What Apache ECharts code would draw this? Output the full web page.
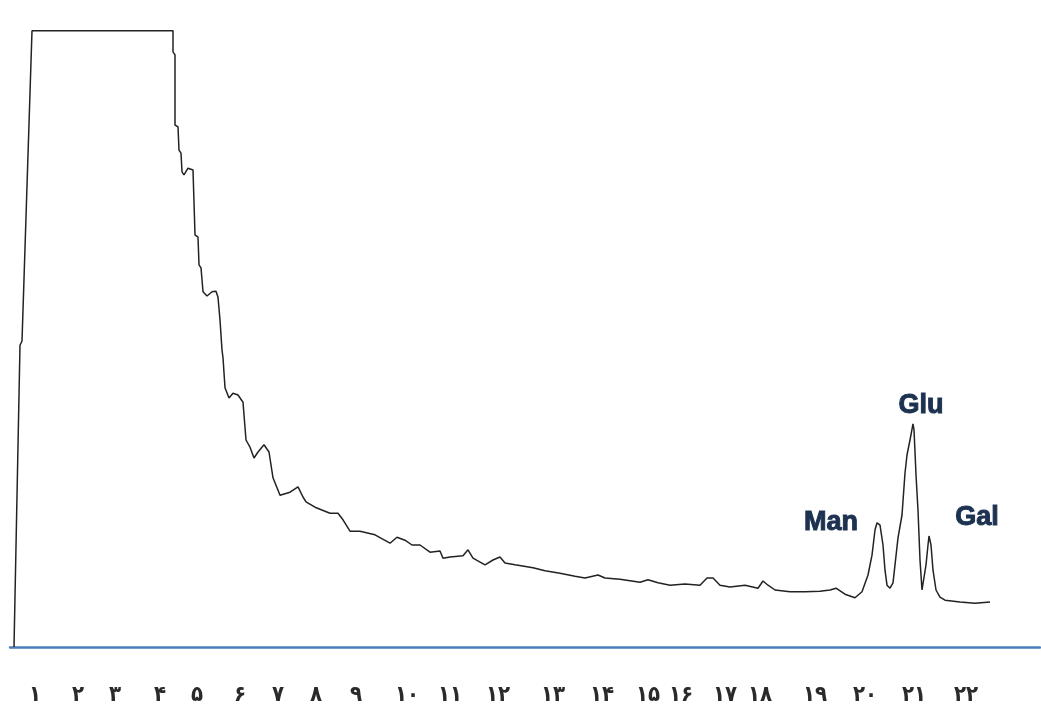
<!DOCTYPE html>
<html>
<head>
<meta charset="utf-8">
<title>Chromatogram</title>
<script src="https://cdn.jsdelivr.net/npm/echarts@6/dist/echarts.min.js"></script>
<style>
  html, body { margin: 0; padding: 0; background: #fff; }
  #chart { width: 1041px; height: 709px; }
</style>
</head>
<body>
<div id="chart"></div>
<script>
// retention (arbitrary units) and detector signal
var retention = [0.4, 1.0, 1.2, 2.2, 16.3, 16.3, 16.5, 16.5, 16.8, 16.9, 17.1, 17.2, 17.4, 17.8, 18.3, 18.5, 18.8, 18.9, 19.1, 19.3, 19.7, 20.2, 20.6, 20.8, 21.0, 21.2, 21.3, 21.5, 21.9, 22.3, 22.8, 23.3, 23.6, 24.0, 24.4, 24.8, 25.4, 25.9, 26.3, 27.0, 28.0, 28.8, 29.3, 29.6, 30.5, 32.0, 32.8, 33.3, 34.0, 35.0, 36.5, 38.0, 38.7, 39.5, 40.2, 41.0, 42.0, 43.0, 43.3, 44.0, 45.3, 45.8, 46.3, 47.5, 48.3, 49.0, 49.5, 50.5, 52.3, 53.5, 55.0, 56.5, 57.5, 58.8, 59.5, 61.0, 63.0, 63.8, 64.8, 66.0, 67.5, 69.0, 69.7, 70.3, 71.0, 72.0, 73.5, 74.8, 75.3, 75.8, 76.5, 78.0, 79.5, 81.0, 82.0, 82.6, 83.5, 84.5, 85.2, 85.8, 86.2, 86.5, 86.7, 87.0, 87.3, 87.5, 87.7, 88.0, 88.3, 88.5, 88.8, 89.2, 89.5, 89.7, 90.0, 90.3, 90.4, 90.6, 90.8, 91.0, 91.2, 91.4, 91.6, 91.8, 91.9, 92.1, 92.3, 92.6, 93.0, 93.5, 95.0, 96.5, 98.0];
var signal = [0, 50.3, 51.0, 102.7, 102.7, 99.2, 98.7, 87.0, 86.7, 82.8, 82.3, 79.2, 78.7, 79.8, 79.5, 68.7, 68.3, 63.7, 63.2, 59.2, 58.5, 59.2, 59.3, 58.3, 54.5, 49.5, 48.2, 43.2, 41.5, 42.3, 42.0, 40.8, 34.5, 33.3, 31.5, 32.5, 33.7, 32.5, 28.2, 25.3, 25.8, 26.7, 25.0, 24.2, 23.3, 22.3, 22.3, 21.2, 19.3, 19.3, 18.7, 17.3, 18.3, 17.8, 17.0, 17.0, 15.8, 16.0, 14.8, 15.0, 15.2, 16.2, 14.8, 13.7, 14.5, 15.0, 14.0, 13.7, 13.2, 12.7, 12.3, 11.8, 11.5, 12.0, 11.5, 11.3, 10.8, 11.2, 10.7, 10.3, 10.5, 10.3, 11.5, 11.5, 10.3, 10.0, 10.3, 9.8, 11.0, 10.3, 9.5, 9.2, 9.2, 9.3, 9.5, 9.8, 8.8, 8.2, 9.2, 12.0, 15.3, 19.5, 20.7, 20.3, 17.0, 12.8, 10.3, 9.8, 10.7, 13.7, 18.2, 22.0, 29.0, 32.0, 34.5, 37.2, 36.2, 28.7, 22.8, 14.5, 9.5, 9.8, 13.7, 17.0, 18.5, 17.0, 12.8, 9.5, 8.3, 7.8, 7.5, 7.3, 7.5];

// x-axis tick positions and their (Persian) labels
var tickPos = [2.5, 6.8, 10.5, 15.0, 18.7, 23.0, 26.8, 30.6, 34.6, 39.7, 44.0, 48.8, 54.3, 59.2, 63.8, 67.1, 71.5, 75.0, 80.5, 85.5, 90.4, 95.6];
var tickLabels = ['۱', '۲', '۳', '۴', '۵', '۶', '۷', '۸', '۹', '۱۰', '۱۱', '۱۲', '۱۳', '۱۴', '۱۵', '۱۶', '۱۷', '۱۸', '۱۹', '۲۰', '۲۱', '۲۲'];

// peak names and where their labels sit
var peakNames = ['Man', 'Glu', 'Gal'];
var peakX = [82.1, 91.1, 96.7];
var peakY = [20.8, 40.3, 21.5];

var points = retention.map(function (t, i) { return [t, signal[i]]; });
var peakMarks = peakNames.map(function (n, i) {
  return { name: n, coord: [peakX[i], peakY[i]] };
});

var myChart = echarts.init(document.getElementById('chart'));
myChart.setOption({
  animation: false,
  grid: { left: 10, right: 1, top: 29, bottom: 62 },
  xAxis: {
    type: 'value',
    min: 0,
    max: 103,
    splitLine: { show: false },
    axisTick: { show: false },
    axisLine: { lineStyle: { color: '#4a7ebb', width: 2.5 } },
    axisLabel: {
      customValues: tickPos,
      margin: 37,
      fontFamily: '"DejaVu Sans Condensed", "DejaVu Sans"',
      fontWeight: 'bold',
      fontSize: 22,
      letterSpacing: 3,
      color: '#2a2a2a',
      formatter: function (v) {
        var i = tickPos.indexOf(v);
        return i >= 0 ? tickLabels[i] : '';
      }
    }
  },
  yAxis: {
    type: 'value',
    min: 0,
    max: 103,
    show: false
  },
  series: [
    {
      type: 'line',
      data: points,
      showSymbol: false,
      lineStyle: { color: '#222', width: 1.5 },
      markPoint: {
        symbol: 'circle',
        symbolSize: 0,
        label: {
          show: true,
          position: 'inside',
          formatter: '{b}',
          fontFamily: 'Liberation Sans',
          fontWeight: 'bold',
          fontSize: 27,
          letterSpacing: -1,
          color: '#1d3251',
          textBorderColor: '#1d3251',
          textBorderWidth: 1
        },
        data: peakMarks
      }
    }
  ]
});
</script>
</body>
</html>
